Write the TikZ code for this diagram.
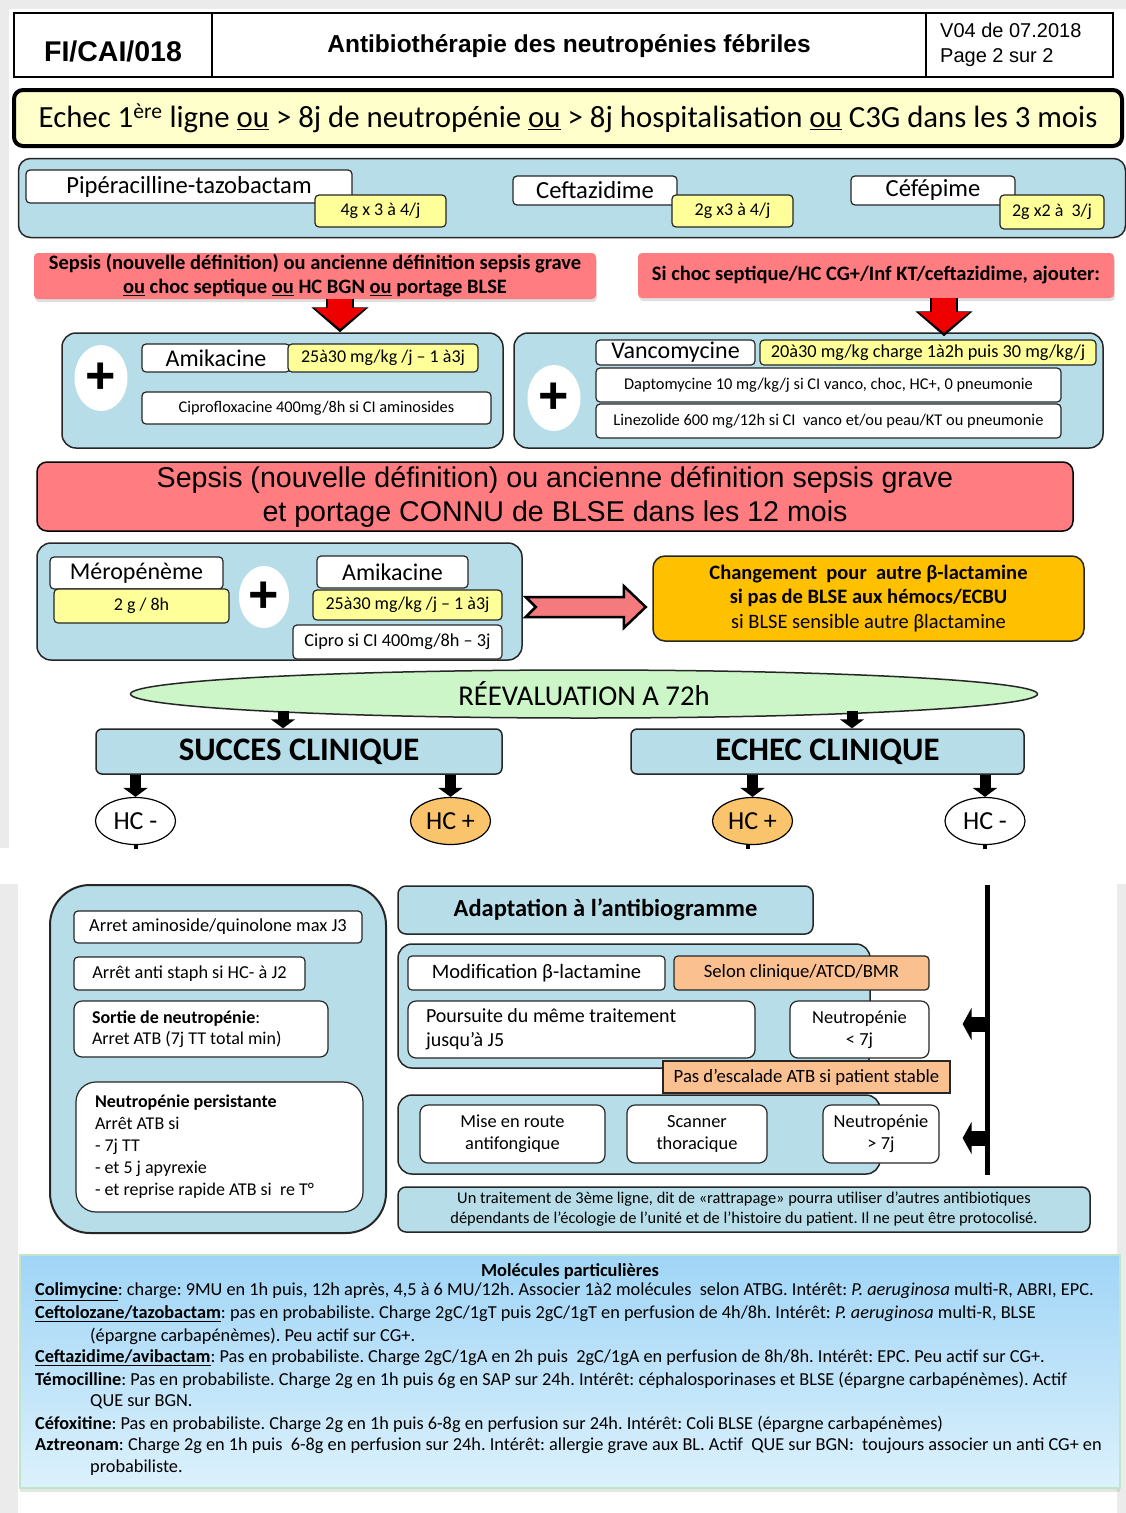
\documentclass[tikz,border=0pt]{standalone}
\usepackage{fontspec}
\setmainfont{Carlito}
\newfontfamily\arial{Liberation Sans}
\usetikzlibrary{arrows.meta,shapes.geometric,shadows,calc}
\frenchspacing

\newcommand{\fsz}[2]{\fontsize{#1pt}{#2pt}\selectfont}

\definecolor{panelblue}{HTML}{B7DEE8}
\definecolor{dosey}{HTML}{FFFF99}
\definecolor{bannery}{HTML}{FFFFCC}
\definecolor{sepsisred}{HTML}{FF7C80}
\definecolor{arrowred}{HTML}{EE0000}
\definecolor{arrowpink}{HTML}{F47A7E}
\definecolor{orangebox}{HTML}{FFC000}
\definecolor{lightorange}{HTML}{FAC090}
\definecolor{hcorange}{HTML}{F9C46B}
\definecolor{evalgreen}{HTML}{CCF5C8}
\definecolor{screengray}{HTML}{EBEBEB}
\definecolor{moltop}{HTML}{A0D5F6}
\definecolor{molbot}{HTML}{DCF1FC}
\definecolor{molborder}{HTML}{BFE6C8}

\tikzset{
  wbox/.style={draw=black!85, fill=white, line width=1.2pt, rounded corners=4pt, inner sep=0pt, align=center},
  dose/.style={wbox, fill=dosey},
  panel/.style={draw=black!85, fill=panelblue, line width=1.5pt, rounded corners=14pt, inner sep=0pt, align=center},
  redbox/.style={fill=sepsisred, rounded corners=4pt, inner sep=0pt, align=center,
    drop shadow={shadow xshift=1pt, shadow yshift=-3pt, opacity=.25}},
  plus/.style={ellipse, fill=white, inner sep=0pt, minimum width=53pt, minimum height=66pt, font=\arial\bfseries\fsz{52}{52}},
  hcnode/.style={ellipse, draw=black, line width=1.2pt, fill=white, inner sep=0pt, minimum width=80pt, minimum height=47pt, font=\fsz{26}{26}},
  blk/.style={line width=11pt, -{Triangle[length=9pt,width=24pt]}},
  lft/.style={line width=15pt, -{Triangle[length=9pt,width=32pt]}},
  redarrow outer/.style={line width=28pt, -{Triangle[length=25pt,width=56pt]}},
  redarrow inner/.style={line width=24pt, draw=arrowred, -{Triangle[length=21pt,width=50pt]}, shorten >=3.5pt},
  mol/.style={anchor=west, inner sep=0pt, font=\fsz{18.3}{20}},
}

\begin{document}
\begin{tikzpicture}[x=1pt,y=-1pt]
\useasboundingbox (0,0) rectangle (1126,1513);
\fill[white] (0,0) rectangle (1126,1513);
% screenshot margins
\fill[screengray] (0,0) rectangle (1126,9);
\fill[screengray] (0,0) rectangle (9,848);
\fill[screengray] (0,884) rectangle (18,1513);
\fill[screengray] (1117,884) rectangle (1126,1513);

% header
\draw[line width=1.8pt] (14,13) rectangle (1113,77);
\draw[line width=1.8pt] (212,13) -- (212,77) (926,13) -- (926,77);
\node[font=\arial\bfseries\fsz{28.5}{30}] (code) at (113,51) {FI/CAI/018};
\node[font=\arial\bfseries\fsz{24.5}{26}] (titre) at (569,46) {Antibiothérapie des neutropénies fébriles};
\node[font=\arial\fsz{20}{25}, align=left, anchor=west, inner sep=0pt] (version) at (940,45) {V04 de 07.2018\\Page 2 sur 2};

% first line criteria
\node[draw, line width=4pt, fill=bannery, rounded corners=9pt, minimum width=1108pt, minimum height=56pt, font=\fsz{30.8}{32}] (echec) at (568,118)
  {Echec 1\textsuperscript{ère} ligne \underline{ou} > 8j de neutropénie \underline{ou} > 8j hospitalisation \underline{ou} C3G dans les 3 mois};

\node[panel, rounded corners=12pt, minimum width=1107pt, minimum height=79pt] (betalac) at (572,198) {};
\node[wbox, minimum width=326pt, minimum height=33pt, font=\fsz{24.6}{28}] (pip) at (189,186.5) {Pipéracilline-tazobactam};
\node[dose, minimum width=131pt, minimum height=32pt, font=\fsz{18}{20}] (pipdose) at (380.5,211) {4g x 3 à 4/j};
\node[wbox, minimum width=164pt, minimum height=29pt, font=\fsz{24.6}{28}] (cefta) at (595,190.5) {Ceftazidime};
\node[dose, minimum width=121pt, minimum height=32pt, font=\fsz{18}{20}] (ceftadose) at (732.5,211) {2g x3 à 4/j};
\node[wbox, minimum width=164pt, minimum height=29pt, font=\fsz{24.6}{28}] (cefe) at (933,190.5) {Céfépime};
\node[dose, minimum width=104pt, minimum height=34pt, font=\fsz{18}{20}] (cefedose) at (1052,212) {2g x2 à\ \ 3/j};

% associations
\node[panel, minimum width=441pt, minimum height=115pt] (plusL) at (282.5,390.5) {};
\node[plus] (plus1) at (101,378) {+};
\node[wbox, minimum width=148pt, minimum height=28pt, font=\fsz{24}{28}] (amik1) at (216,358) {Amikacine};
\node[dose, minimum width=190pt, minimum height=28pt, font=\fsz{18}{20}] (amikdose1) at (383,358) {25à30 mg/kg /j – 1 à3j};
\node[wbox, minimum width=349pt, minimum height=32pt, font=\fsz{16.3}{19}] (cipro1) at (316.5,408) {Ciprofloxacine 400mg/8h si CI aminosides};

\node[panel, minimum width=589pt, minimum height=115pt] (plusR) at (808.5,390.5) {};
\node[plus] (plus2) at (554,398) {+};
\node[wbox, minimum width=159pt, minimum height=25pt, font=\fsz{24}{28}] (vanco) at (675.5,352.5) {Vancomycine};
\node[dose, minimum width=336pt, minimum height=25pt, font=\fsz{18.3}{20}] (vancodose) at (928,352.5) {20à30 mg/kg charge 1à2h puis 30 mg/kg/j};
\node[wbox, minimum width=465pt, minimum height=34pt, font=\fsz{16.4}{19}] (dapto) at (828.5,385) {Daptomycine 10 mg/kg/j si CI vanco, choc, HC+, 0 pneumonie};
\node[wbox, minimum width=465pt, minimum height=34pt, font=\fsz{16.4}{19}] (linez) at (828.5,421) {Linezolide 600 mg/12h si CI\ \ vanco et/ou peau/KT ou pneumonie};

\node[redbox, minimum width=562pt, minimum height=46pt, font=\bfseries\fsz{20.5}{24}] (sepL) at (315,276)
  {Sepsis (nouvelle définition) ou ancienne définition sepsis grave\\\underline{ou} choc septique \underline{ou} HC BGN \underline{ou} portage BLSE};
\node[redbox, minimum width=476pt, minimum height=45pt, font=\bfseries\fsz{20.5}{24}] (sepR) at (876,275.5)
  {Si choc septique/HC CG+/Inf KT/ceftazidime, ajouter:};

\coordinate (aL) at ($(sepL.south)+(25,0)$);
\coordinate (aR) at ($(sepR.south)+(68,0)$);
\draw[redarrow outer] (aL) -- (aL |- plusL.north);
\draw[redarrow inner] (aL) -- (aL |- plusL.north);
\draw[redarrow outer] (aR) -- ($(aR |- plusR.north)+(0,4)$);
\draw[redarrow inner] (aR) -- ($(aR |- plusR.north)+(0,4)$);

% known BLSE carriage
\node[draw, line width=1.5pt, fill=sepsisred, rounded corners=10pt, minimum width=1036pt, minimum height=69pt, align=center, font=\arial\fsz{28.6}{34}] (sepBLSE) at (555,496.5)
  {Sepsis (nouvelle définition) ou ancienne définition sepsis grave\\et portage CONNU de BLSE dans les 12 mois};

\node[panel, minimum width=485pt, minimum height=117pt] (merobox) at (279.5,601.5) {};
\node[wbox, minimum width=173pt, minimum height=32pt, font=\fsz{24}{28}] (mero) at (136.5,573) {Méropénème};
\node[dose, minimum width=175pt, minimum height=34pt, font=\fsz{18}{20}] (merodose) at (141.5,606) {2 g / 8h};
\node[plus, minimum width=50pt, minimum height=62pt] (plus3) at (264,597) {+};
\node[wbox, minimum width=151pt, minimum height=32pt, font=\fsz{24}{28}] (amik2) at (392.5,572) {Amikacine};
\node[dose, minimum width=189pt, minimum height=30pt, font=\fsz{18}{20}] (amikdose2) at (407.5,605) {25à30 mg/kg /j – 1 à3j};
\node[wbox, minimum width=209pt, minimum height=34pt, font=\fsz{18.3}{20}] (cipro2) at (397.5,642) {Cipro si CI 400mg/8h – 3j};

\node[fill=orangebox, draw=black!85, line width=1.5pt, rounded corners=12pt, minimum width=431pt, minimum height=85pt, align=center, font=\fsz{20.5}{24.5}] (change) at (868.5,598.5)
  {\textbf{Changement\ \ pour\ \ autre β-lactamine}\\\textbf{si pas de BLSE aux hémocs/ECBU}\\si BLSE sensible autre βlactamine};

\coordinate (ra) at ($(merobox.east)+(3,5.5)$);
\draw[line width=2.5pt, fill=arrowpink, line join=miter] (ra) ++(0,-10) -- ++(98,0) -- ++(0,-11) -- ++(22,21)
  -- ++(-22,21) -- ++(0,-11) -- ++(-98,0) -- ++(10,-10) -- cycle;

% reassessment
\node[ellipse, draw=black!85, line width=1.5pt, fill=evalgreen, inner sep=0pt, minimum width=907pt, minimum height=48pt, font=\fsz{28.7}{30}] (reeval) at (584,694) {RÉEVALUATION A 72h};
\node[panel, rounded corners=6pt, minimum width=406pt, minimum height=45pt, font=\bfseries\fsz{32.8}{34}] (succ) at (299,751.5) {SUCCES CLINIQUE};
\node[panel, rounded corners=6pt, minimum width=393pt, minimum height=45pt, font=\bfseries\fsz{32.8}{34}] (echecc) at (827.5,751.5) {ECHEC CLINIQUE};
\coordinate (r1) at (283,711);
\coordinate (r2) at (852,711);
\draw[blk] (r1) -- (r1 |- succ.north);
\draw[blk] (r2) -- (r2 |- echecc.north);

\node[hcnode] (hc1) at (135.5,821) {HC -};
\node[hcnode, fill=hcorange] (hc2) at (450.5,821) {HC +};
\node[hcnode, fill=hcorange] (hc3) at (752.5,821) {HC +};
\node[hcnode] (hc4) at (985,821) {HC -};
\draw[blk] (succ.south -| hc1) -- (hc1.north);
\draw[blk] (succ.south -| hc2) -- (hc2.north);
\draw[blk] (echecc.south -| hc3) -- (hc3.north);
\draw[blk] (echecc.south -| hc4) -- (hc4.north);
\draw[line width=4pt] (hc1.south) -- ++(0,4);
\draw[line width=4pt] ($(hc3.south)+(-5,0)$) -- ++(0,4);
\draw[line width=4pt] (hc4.south) -- ++(0,4);

% success branch
\node[panel, rounded corners=40pt, line width=2pt, minimum width=336pt, minimum height=348pt] (succbox) at (218,1059) {};
\node[wbox, minimum width=288pt, minimum height=32pt, font=\fsz{18.4}{20}] (stop1) at (218,927) {Arret aminoside/quinolone max J3};
\node[wbox, minimum width=231pt, minimum height=33pt, font=\fsz{18.3}{20}] (stop2) at (189.5,973.5) {Arrêt anti staph si HC- à J2};
\node[wbox, inner xsep=18pt, text width=218pt, align=flush left, minimum height=56pt, rounded corners=8pt, font=\fsz{18}{21}] (sortie) at (201,1029)
  {\textbf{Sortie de neutropénie}:\\Arret ATB (7j TT total min)};
\node[wbox, inner xsep=19pt, text width=249pt, align=flush left, minimum height=130pt, rounded corners=20pt, font=\fsz{18}{22}] (persist) at (219.5,1147)
  {\textbf{Neutropénie persistante}\\Arrêt ATB si\\- 7j TT\\- et 5 j apyrexie\\- et reprise rapide ATB si\ \ re T°};

% failure branch
\node[panel, rounded corners=8pt, minimum width=415pt, minimum height=48pt, font=\bfseries\fsz{24.5}{26}] (adapt) at (605.5,910) {Adaptation à l’antibiogramme};
\node[panel, minimum width=472pt, minimum height=124pt] (lt7box) at (634,1006) {};
\node[wbox, minimum width=257pt, minimum height=34pt, font=\fsz{20.5}{22}] (modif) at (536.5,973) {Modification β-lactamine};
\node[wbox, fill=lightorange, minimum width=255pt, minimum height=34pt, font=\fsz{18.7}{20}] (selon) at (801.5,973) {Selon clinique/ATCD/BMR};
\node[wbox, inner xsep=18pt, text width=311pt, align=flush left, minimum height=57pt, rounded corners=8pt, font=\fsz{20}{24}] (poursuite) at (581.5,1029.5)
  {Poursuite du même traitement\\jusqu’à J5};
\node[wbox, minimum width=139pt, minimum height=57pt, rounded corners=8pt, font=\fsz{18.4}{22}] (neutlt) at (859.5,1029.5) {Neutropénie\\< 7j};
\node[draw=black!85, line width=1.2pt, fill=lightorange, inner sep=0pt, minimum width=287pt, minimum height=32pt, font=\fsz{18.7}{20}] (pasesc) at (806.5,1077) {Pas d’escalade ATB si patient stable};

\node[panel, minimum width=482pt, minimum height=79pt] (gt7box) at (639,1134.5) {};
\node[wbox, minimum width=185pt, minimum height=58pt, rounded corners=8pt, font=\fsz{18.4}{22}] (mise) at (512.5,1134) {Mise en route\\antifongique};
\node[wbox, minimum width=140pt, minimum height=58pt, rounded corners=8pt, font=\fsz{18.4}{22}] (scanner) at (697,1134) {Scanner\\thoracique};
\node[wbox, minimum width=116pt, minimum height=58pt, rounded corners=8pt, font=\fsz{18.4}{22}] (neutgt) at (881,1134) {Neutropénie\\> 7j};

\coordinate (vtop) at (987,885);
\coordinate (vbot) at (987,1175);
\draw[line width=5pt] (vtop) -- (vbot);
\coordinate (v1) at (986,1024);
\coordinate (v2) at (986,1138);
\draw[lft] (v1) -- ($(neutlt.east |- v1)+(33,0)$);
\draw[lft] (v2) -- ($(neutgt.east |- v2)+(23,0)$);

\node[panel, rounded corners=8pt, minimum width=692pt, minimum height=45pt, font=\fsz{16.4}{20}] (rattrap) at (744,1209.5)
  {Un traitement de 3ème ligne, dit de «rattrapage» pourra utiliser d’autres antibiotiques\\dépendants de l’écologie de l’unité et de l’histoire du patient. Il ne peut être protocolisé.};

% special molecules
\node[draw=molborder, line width=1.5pt, top color=moltop, bottom color=molbot, inner sep=0pt, minimum width=1100pt, minimum height=233pt,
  drop shadow={shadow xshift=0pt, shadow yshift=-4pt, opacity=.2}] (molecules) at (570,1371.5) {};
\node[font=\bfseries\fsz{18.4}{20}, inner sep=0pt] (moltitle) at (570,1271) {Molécules particulières};
\node[mol] (m1) at (35,1292) {\textbf{\underline{Colimycine}}: charge: 9MU en 1h puis, 12h après, 4,5 à 6 MU/12h. Associer 1à2 molécules\ \ selon ATBG. Intérêt: \textit{P. aeruginosa} multi-R, ABRI, EPC.};
\node[mol] (m2) at (35,1314) {\textbf{\underline{Ceftolozane/tazobactam}}: pas en probabiliste. Charge 2gC/1gT puis 2gC/1gT en perfusion de 4h/8h. Intérêt: \textit{P. aeruginosa} multi-R, BLSE};
\node[mol] (m2b) at (90,1336) {(épargne carbapénèmes). Peu actif sur CG+.};
\node[mol] (m3) at (35,1358) {\textbf{\underline{Ceftazidime/avibactam}}: Pas en probabiliste. Charge 2gC/1gA en 2h puis\ \ 2gC/1gA en perfusion de 8h/8h. Intérêt: EPC. Peu actif sur CG+.};
\node[mol] (m4) at (35,1380) {\textbf{Témocilline}: Pas en probabiliste. Charge 2g en 1h puis 6g en SAP sur 24h. Intérêt: céphalosporinases et BLSE (épargne carbapénèmes). Actif};
\node[mol] (m4b) at (90,1402) {QUE sur BGN.};
\node[mol] (m5) at (35,1424) {\textbf{Céfoxitine}: Pas en probabiliste. Charge 2g en 1h puis 6-8g en perfusion sur 24h. Intérêt: Coli BLSE (épargne carbapénèmes)};
\node[mol] (m6) at (35,1446) {\textbf{Aztreonam}: Charge 2g en 1h puis\ \ 6-8g en perfusion sur 24h. Intérêt: allergie grave aux BL. Actif\ \ QUE sur BGN:\ \ toujours associer un anti CG+ en};
\node[mol] (m6b) at (90,1468) {probabiliste.};
\end{tikzpicture}
\end{document}
